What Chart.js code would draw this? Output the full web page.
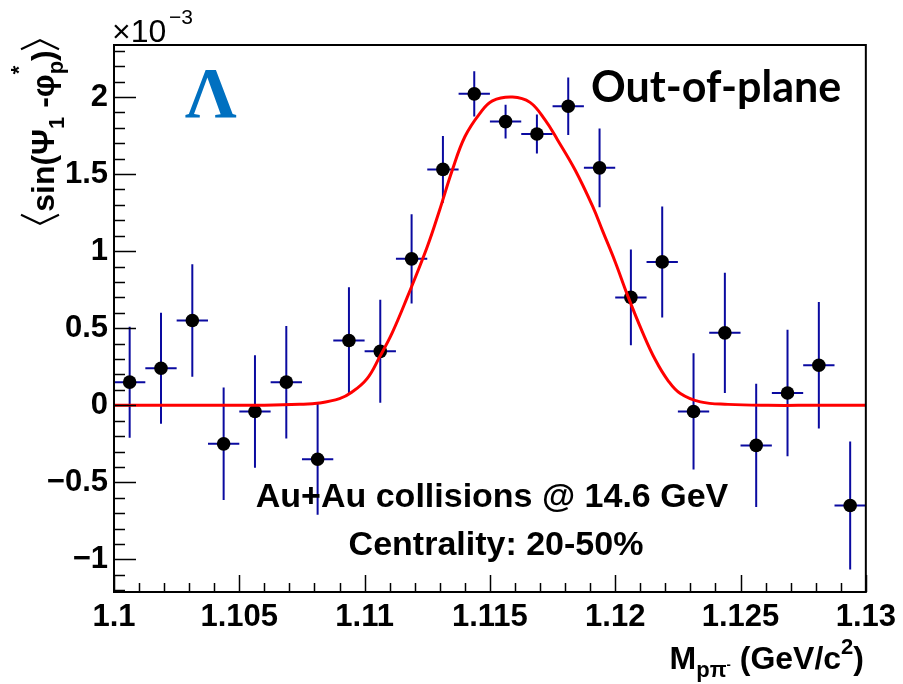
<!DOCTYPE html>
<html>
<head>
<meta charset="utf-8">
<script src="https://cdn.jsdelivr.net/npm/chart.js@4.4.0/dist/chart.umd.min.js"></script>
<style>
  body { margin: 0; background: #fff; }
  canvas { display: block; }
</style>
</head>
<body>
<canvas id="myChart" width="903" height="684"></canvas>
<script>
// Bin centres of the invariant mass histogram (GeV/c^2)
let binCenters = [1.100625, 1.101875, 1.103125, 1.104375, 1.105625, 1.106875, 1.108125, 1.109375,
    1.110625, 1.111875, 1.113125, 1.114375, 1.115625, 1.116875, 1.118125, 1.119375,
    1.120625, 1.121875, 1.123125, 1.124375, 1.125625, 1.126875, 1.128125, 1.129375];
let binHalfWidth = 0.000625;

// <sin(Psi1 - phi_p*)> in units of 1e-3, with statistical errors
let sinValues = [0.15, 0.24, 0.55, -0.25, -0.04, 0.15, -0.35, 0.42,
    0.35, 0.95, 1.53, 2.02, 1.84, 1.76, 1.94, 1.54,
    0.70, 0.93, -0.04, 0.47, -0.26, 0.08, 0.26, -0.65];
let sinErrors = [0.36, 0.36, 0.365, 0.365, 0.365, 0.365, 0.36, 0.346,
    0.334, 0.29, 0.217, 0.146, 0.11, 0.127, 0.186, 0.256,
    0.31, 0.36, 0.377, 0.39, 0.40, 0.41, 0.41, 0.415];

// Fit curve
let fitX = [1.1, 1.103, 1.106, 1.1074, 1.1082, 1.1090, 1.1095, 1.1101, 1.1106, 1.1111, 1.1117,
    1.1125, 1.1130, 1.1135, 1.1140, 1.1146, 1.1151, 1.1159, 1.1166, 1.1172, 1.1177, 1.1184,
    1.1191, 1.1195, 1.1200, 1.1205, 1.1211, 1.1216, 1.1221, 1.1226, 1.1234, 1.1245, 1.1261,
    1.128, 1.13];
let fitY = [0, 0, 0.001, 0.006, 0.015, 0.043, 0.086, 0.173, 0.314, 0.47, 0.70,
    1.028, 1.27, 1.526, 1.742, 1.894, 1.975, 2.0, 1.965, 1.851, 1.721, 1.526,
    1.29, 1.13, 0.93, 0.71, 0.47, 0.295, 0.162, 0.076, 0.022, 0.006, 0,
    0, 0];

// Axis ticks
let xTickValues = [1.1, 1.105, 1.11, 1.115, 1.12, 1.125, 1.13];
let xTickLabels = ["1.1", "1.105", "1.11", "1.115", "1.12", "1.125", "1.13"];
let yTickValues = [-1, -0.5, 0, 0.5, 1, 1.5, 2];
let yTickLabels = ["\u22121", "\u22120.5", "0", "0.5", "1", "1.5", "2"];
let xMinorStep = 0.001;
let yMinorStep = 0.1;

let boldFont = '"Liberation Sans", Arial, Helvetica, sans-serif';

// Draw the error bars under the markers
let errorBarPlugin = {
    id: "errorBars",
    beforeDatasetsDraw(chart) {
        let ctx = chart.ctx;
        let xs = chart.scales.x;
        let ys = chart.scales.y;
        let area = chart.chartArea;
        ctx.save();
        ctx.beginPath();
        ctx.rect(area.left, area.top, area.right - area.left, area.bottom - area.top);
        ctx.clip();
        ctx.strokeStyle = "#0a0aa0";
        ctx.lineWidth = 2;
        binCenters.forEach((x, i) => {
            let px = xs.getPixelForValue(x);
            let py = ys.getPixelForValue(sinValues[i]);
            ctx.beginPath();
            ctx.moveTo(px, ys.getPixelForValue(sinValues[i] + sinErrors[i]));
            ctx.lineTo(px, ys.getPixelForValue(sinValues[i] - sinErrors[i]));
            ctx.moveTo(xs.getPixelForValue(x - binHalfWidth), py);
            ctx.lineTo(xs.getPixelForValue(x + binHalfWidth), py);
            ctx.stroke();
        });
        ctx.restore();
    }
};

// thin angle bracket for the axis title, in the rotated text frame
let drawBracket = (ctx, x, open) => {
    ctx.beginPath();
    if (open) {
        ctx.moveTo(x + 10, -33);
        ctx.lineTo(x + 1, -14);
        ctx.lineTo(x + 10, 5);
    } else {
        ctx.moveTo(x + 1, -33);
        ctx.lineTo(x + 10, -14);
        ctx.lineTo(x + 1, 5);
    }
    ctx.stroke();
};

// Frame, inside ticks and all the extra texts
let decorPlugin = {
    id: "decor",
    afterDraw(chart) {
        let ctx = chart.ctx;
        let xs = chart.scales.x;
        let ys = chart.scales.y;
        let a = chart.chartArea;
        ctx.save();
        ctx.strokeStyle = "#000";
        ctx.lineWidth = 2;
        ctx.strokeRect(a.left, a.top, a.right - a.left, a.bottom - a.top);

        // x ticks (bottom, pointing up)
        ctx.lineWidth = 1.5;
        ctx.beginPath();
        for (let k = 0; k <= 30; k++) {
            let v = 1.1 + k * xMinorStep;
            let px = Math.round(xs.getPixelForValue(v)) + 0.5;
            let len = (k % 5 === 0) ? 17 : 9;
            ctx.moveTo(px, a.bottom);
            ctx.lineTo(px, a.bottom - len);
        }
        // y ticks (left, pointing right)
        for (let k = -12; k <= 23; k++) {
            let v = k * yMinorStep;
            let py = Math.round(ys.getPixelForValue(v)) + 0.5;
            if (py < a.top || py > a.bottom) continue;
            let len = (k % 5 === 0) ? 22 : 11;
            ctx.moveTo(a.left, py);
            ctx.lineTo(a.left + len, py);
        }
        ctx.stroke();

        ctx.fillStyle = "#000";
        ctx.textBaseline = "alphabetic";

        // x10^-3
        ctx.textAlign = "left";
        ctx.font = "32px " + boldFont;
        ctx.fillText("\u00d710", 112, 42);
        ctx.font = "21px " + boldFont;
        ctx.fillText("\u22123", 169, 24);

        // Lambda
        ctx.fillStyle = "#0070c0";
        ctx.font = 'bold 72px "Liberation Serif", "DejaVu Serif", serif';
        ctx.fillText("\u039b", 185, 117);

        // Out-of-plane
        ctx.fillStyle = "#000";
        ctx.font = "bold 43px Lato, \"Open Sans\", sans-serif";
        ctx.fillText("Out-of-plane", 591, 102);

        // collision labels
        ctx.textAlign = "center";
        ctx.font = "bold 34px " + boldFont;
        ctx.fillText("Au+Au collisions @ 14.6 GeV", 492, 507);
        ctx.fillText("Centrality: 20-50%", 496, 555);

        // x axis title: M_{p pi-} (GeV/c^2)
        ctx.textAlign = "left";
        let big = "bold 32px " + boldFont;
        let small = "bold 22px " + boldFont;
        let xParts = [
            { t: "M", f: big, dy: 0 },
            { t: "p\u03c0", f: small, dy: 8 },
            { t: "-", f: "bold 13px " + boldFont, dy: 0 },
            { t: " (GeV/c", f: big, dy: 0 },
            { t: "2", f: small, dy: -15 },
            { t: ")", f: big, dy: 0 }
        ];
        let total = 0;
        xParts.forEach(p => { ctx.font = p.f; total += ctx.measureText(p.t).width; });
        let cx = 864 - total;
        xParts.forEach(p => {
            ctx.font = p.f;
            ctx.fillText(p.t, cx, 669 + p.dy);
            cx += ctx.measureText(p.t).width;
        });

        // y axis title: <sin(Psi_1 - phi_p^*)>
        ctx.translate(54, 131);
        ctx.rotate(-Math.PI / 2);
        ctx.lineWidth = 2;
        let yParts = [
            { br: "open", w: 13 },
            { t: "sin(\u03a8", f: big, dy: 0 },
            { t: "1", f: small, dy: 10 },
            { t: " -\u03c6", f: big, dy: 0 },
            { t: "p", f: small, dy: 9, sup: "*" },
            { t: ")", f: big, dy: 0 },
            { br: "close", w: 13 }
        ];
        total = 0;
        yParts.forEach(p => {
            if (p.br) { total += p.w; return; }
            ctx.font = p.f;
            total += ctx.measureText(p.t).width;
        });
        cx = -total / 2;
        yParts.forEach(p => {
            if (p.br) {
                drawBracket(ctx, cx, p.br === "open");
                cx += p.w;
                return;
            }
            ctx.font = p.f;
            ctx.fillText(p.t, cx, p.dy);
            if (p.sup) ctx.fillText(p.sup, cx, -28);
            cx += ctx.measureText(p.t).width;
        });
        ctx.restore();
    }
};

let ctx = document.getElementById("myChart").getContext("2d");
let myChart = new Chart(ctx, {
    type: "scatter",
    data: {
        datasets: [
            {
                // fit drawn on top
                type: "line",
                data: fitX.map((x, i) => ({ x: x, y: fitY[i] })),
                borderColor: "#ff0000",
                borderWidth: 3,
                pointRadius: 0,
                fill: false,
                tension: 0.4
            },
            {
                data: binCenters.map((x, i) => ({ x: x, y: sinValues[i] })),
                backgroundColor: "#000",
                borderWidth: 0,
                pointRadius: 6.8
            }
        ]
    },
    options: {
        responsive: false,
        animation: false,
        layout: { padding: { left: 0, top: 45, right: 35, bottom: 0 } },
        plugins: { legend: { display: false }, tooltip: { enabled: false } },
        scales: {
            x: {
                type: "linear",
                min: 1.1,
                max: 1.13,
                grid: { display: false, drawTicks: false },
                border: { display: false },
                afterBuildTicks: scale => { scale.ticks = xTickValues.map(v => ({ value: v })); },
                afterFit: scale => { scale.height = 92; },
                ticks: {
                    padding: 7,
                    autoSkip: false,
                    maxRotation: 0,
                    color: "#000",
                    font: { family: boldFont, size: 31, weight: "bold" },
                    callback: (value, index) => xTickLabels[index]
                }
            },
            y: {
                type: "linear",
                min: -1.211,
                max: 2.337,
                grid: { display: false, drawTicks: false },
                border: { display: false },
                afterBuildTicks: scale => { scale.ticks = yTickValues.map(v => ({ value: v })); },
                afterFit: scale => { scale.width = 114; },
                ticks: {
                    padding: 6,
                    color: "#000",
                    font: { family: boldFont, size: 31, weight: "bold" },
                    callback: (value, index) => yTickLabels[index]
                }
            }
        }
    },
    plugins: [errorBarPlugin, decorPlugin]
});
</script>
</body>
</html>
